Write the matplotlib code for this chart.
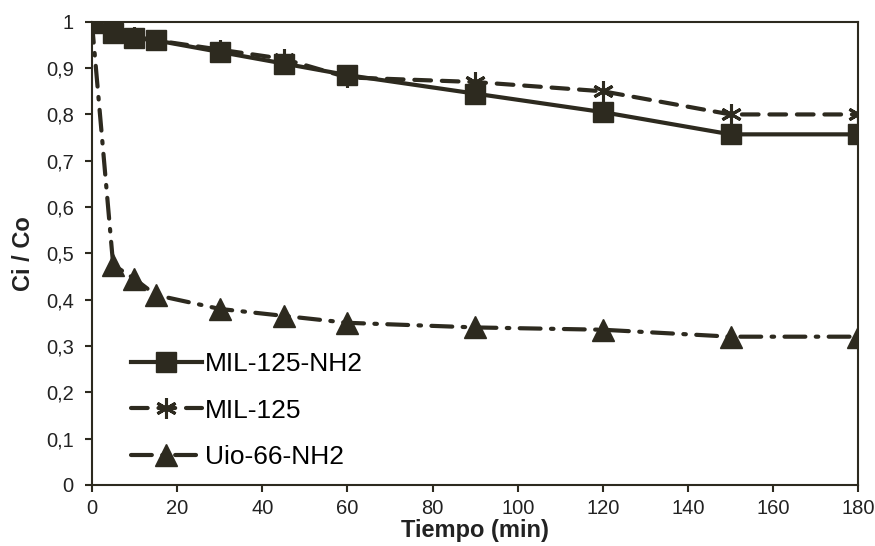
import matplotlib
matplotlib.use("Agg")
import matplotlib.pyplot as plt
from matplotlib.ticker import FuncFormatter

plt.rcParams['font.family'] = ['Liberation Sans', 'DejaVu Sans']

tiempo = [0, 5, 10, 15, 30, 45, 60, 90, 120, 150, 180]
mil125_nh2 = [1.0, 0.975, 0.965, 0.96, 0.935, 0.91, 0.885, 0.845, 0.805, 0.757, 0.757]
mil125 = [1.0, 0.975, 0.968, 0.96, 0.94, 0.92, 0.88, 0.87, 0.85, 0.80, 0.80]
uio66_nh2 = [1.0, 0.475, 0.445, 0.41, 0.38, 0.365, 0.35, 0.34, 0.335, 0.32, 0.32]
labels = ["MIL-125-NH2", "MIL-125", "Uio-66-NH2"]
xticks = list(range(0, 181, 20))
yticks = [i / 10 for i in range(0, 11)]

C = '#2d2a1f'
fig = plt.figure(figsize=(8.75, 5.46), dpi=100)
ax = fig.add_axes([0.105, 0.112, 0.876, 0.848])

ax.plot(tiempo, mil125, color=C, lw=3.0, dashes=(4, 2.6), dash_capstyle='round',
        marker=(6, 2, 0), ms=15, mew=2.2, label=labels[1], zorder=3)
ax.plot(tiempo, mil125_nh2, color=C, lw=3.0, marker='s', ms=14, label=labels[0], zorder=4)
ax.plot(tiempo, uio66_nh2, color=C, lw=3.0, dashes=(5, 2.5, 0.6, 2.5), dash_capstyle='round',
        marker='^', ms=16, label=labels[2], zorder=3)

ax.set_xlim(0, 180)
ax.set_ylim(0, 1)
ax.set_xticks(xticks)
ax.set_yticks(yticks)
ax.yaxis.set_major_formatter(FuncFormatter(lambda v, p: ('%g' % round(v, 1)).replace('.', ',')))
ax.tick_params(axis='both', labelsize=14.5, color=C, labelcolor='#222222', width=1.5, length=5, direction='out')
ax.tick_params(axis='y', pad=8)
ax.tick_params(axis='x', pad=5)
for s in ax.spines.values():
    s.set_color(C)
    s.set_linewidth(1.5)
ax.set_xlabel('Tiempo (min)', fontsize=17, fontweight='bold', labelpad=1, color='#222222')
ax.set_ylabel('Ci / Co', fontsize=17, fontweight='bold', labelpad=8, color='#222222')

h, l = ax.get_legend_handles_labels()
order = [1, 0, 2]
ax.legend([h[i] for i in order], [l[i] for i in order], loc='lower left',
          bbox_to_anchor=(0.03, 0.0), frameon=False, fontsize=19, handlelength=2.7,
          handletextpad=0.1, labelspacing=0.85, borderaxespad=0.2)

fig.savefig('out.png', dpi=100)
